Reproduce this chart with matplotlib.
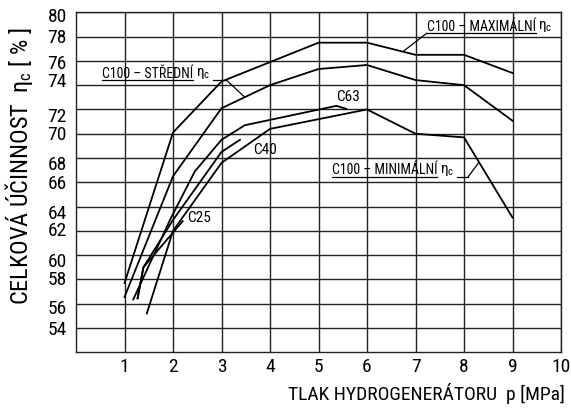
import numpy as np
import matplotlib
matplotlib.use("Agg")
import matplotlib.pyplot as plt
from matplotlib import font_manager
from matplotlib.transforms import ScaledTranslation

# Efficiency curves read from the catalogue sheet: pressure [MPa] vs total efficiency [%]
p_max = [1.0, 2.0, 3.0, 5.0, 6.0, 7.0, 8.0, 9.0]
eta_max = [57.7, 70.1, 74.3, 77.5, 77.5, 76.5, 76.5, 75.0]

p_mid = [1.0, 2.0, 3.0, 4.0, 5.0, 6.0, 7.0, 8.0, 9.0]
eta_mid = [56.55, 66.5, 72.1, 74.0, 75.33, 75.66, 74.42, 74.0, 71.07]

p_min = [1.46, 2.0, 3.0, 4.0, 6.0, 7.0, 8.0, 9.0]
eta_min = [55.2, 62.0, 67.6, 70.4, 72.0, 70.0, 69.7, 63.1]

p_c63 = [1.18, 1.95, 2.45, 3.0, 3.48, 5.37, 5.57]
eta_c63 = [56.35, 63.0, 66.9, 69.5, 70.7, 72.3, 72.05]

p_c40 = [1.27, 1.39, 2.0, 3.0, 3.38]
eta_c40 = [56.45, 59.0, 62.9, 68.5, 69.5]

p_c25 = [1.27, 1.39, 2.2]
eta_c25 = [56.45, 59.0, 62.8]

x_ticks = list(range(1, 11))
y_ticks = list(range(54, 81, 2))

# narrow sans if one is around, plain DejaVu otherwise
available = {f.name for f in font_manager.fontManager.ttflist}
narrow = [f for f in font_manager.fontManager.ttflist
          if f.name == 'DejaVu Sans' and f.stretch == 'condensed']
family = 'DejaVu Sans'
stretch = 'normal'
for cand in ['Liberation Sans Narrow', 'Roboto Condensed', 'DejaVu Sans Condensed',
             'Open Sans Condensed', 'Noto Sans Condensed']:
    if cand in available:
        family = cand
        break
else:
    if narrow:
        stretch = 'condensed'

plt.rcParams['font.family'] = [family, 'DejaVu Sans']
plt.rcParams['font.stretch'] = stretch
plt.rcParams['mathtext.fontset'] = 'custom'
plt.rcParams['mathtext.rm'] = family
plt.rcParams['mathtext.it'] = family

fig = plt.figure(figsize=(5.71, 4.16), dpi=100)
ax = fig.add_axes([0.1331, 0.1531, 0.8494, 0.8173])

ax.set_xlim(0, 10)
ax.set_ylim(52, 80)
ax.set_xticks(x_ticks)
ax.set_yticks(y_ticks)
ax.tick_params(length=0, labelsize=14)
ax.tick_params(axis='x', pad=4)
ax.tick_params(axis='y', pad=6.5)
ax.grid(True, color='#222222', linewidth=1.0)
ax.set_axisbelow(True)
for s in ax.spines.values():
    s.set_color('#222222')
    s.set_linewidth(1.0)

# the y labels on the sheet are set a little unevenly, in pairs
nudge = [0, 3, -1, 5, -1.5, 5, 0, 5, -0.5, 6, -5, 1.5, -1, 3]
for lab, dy in zip(ax.get_yticklabels(), nudge):
    lab.set_transform(lab.get_transform() + ScaledTranslation(0, -dy / 100, fig.dpi_scale_trans))

for px, ey in [(p_max, eta_max), (p_mid, eta_mid), (p_min, eta_min),
               (p_c63, eta_c63), (p_c40, eta_c40), (p_c25, eta_c25)]:
    ax.plot(px, ey, color='black', linewidth=1.3, solid_joinstyle='miter')

fs = 10
ax.text(5.6, 73.0, 'C63', fontsize=11, ha='center', va='center')
ax.text(3.9, 68.7, 'C40', fontsize=11, ha='center', va='center')
ax.text(2.30, 63.1, 'C25', fontsize=11, ha='left', va='center')

t_max = ax.text(7.23, 78.8, 'C100 – MAXIMÁLNÍ', fontsize=fs, ha='left', va='center')
t_mid = ax.text(0.53, 74.95, 'C100 – STŘEDNÍ', fontsize=fs, ha='left', va='center')
t_min = ax.text(5.27, 67.0, 'C100 – MINIMÁLNÍ', fontsize=fs, ha='left', va='center')
eta_labels = []
for t in (t_max, t_mid, t_min):
    e = ax.annotate(r'$\eta_\mathrm{c}$', xy=(1, 0.5), xycoords=t, xytext=(2, 0),
                    textcoords='offset points', fontsize=fs + 1, ha='left', va='center')
    eta_labels.append(e)

fig.text(565 / 571, 1 - 399.5 / 416, 'TLAK HYDROGENERÁTORU  p [MPa]',
         fontsize=14, ha='right', va='baseline')
fig.text(19 / 571, 1 - 166 / 416, r'CELKOVÁ ÚČINNOST  $\eta_\mathrm{c}$ [ % ]',
         fontsize=17.5, rotation=90, ha='center', va='center')

# underlines and leader lines for the C100 labels
fig.canvas.draw()
inv = ax.transData.inverted()


def bbox_data(artist):
    bb = artist.get_window_extent()
    (x0, y0), (x1, y1) = inv.transform([[bb.x0, bb.y0], [bb.x1, bb.y1]])
    return x0, y0, x1, y1


line_kw = dict(color='black', linewidth=0.9)

x0, y0, x1, y1 = bbox_data(t_max)
uy = y0 + 0.05
ax.plot([x0, x1], [uy, uy], **line_kw)
tx = 6.74
ax.plot([x0, tx], [uy, np.interp(tx, p_max, eta_max)], **line_kw)

x0, y0, x1, y1 = bbox_data(t_mid)
uy = y0 + 0.05
ax.plot([x0, x1], [uy, uy], **line_kw)
ex0, _, ex1, _ = bbox_data(eta_labels[1])
hook = max(ex1 + 0.2, 3.1)
ax.plot([ex1 + 0.06, hook], [uy, uy], **line_kw)
tx = 3.48
ax.plot([hook, tx], [uy, np.interp(tx, p_mid, eta_mid)], **line_kw)

x0, y0, x1, y1 = bbox_data(t_min)
uy = y0 + 0.05
ax.plot([x0, x1], [uy, uy], **line_kw)
ex0, _, ex1, _ = bbox_data(eta_labels[2])
hook = max(ex1 + 0.2, 8.09)
ax.plot([ex1 + 0.06, hook], [uy, uy], **line_kw)
tx = 8.31
ax.plot([hook, tx], [uy, np.interp(tx, p_min, eta_min)], **line_kw)

fig.savefig('out.png', dpi=100)
